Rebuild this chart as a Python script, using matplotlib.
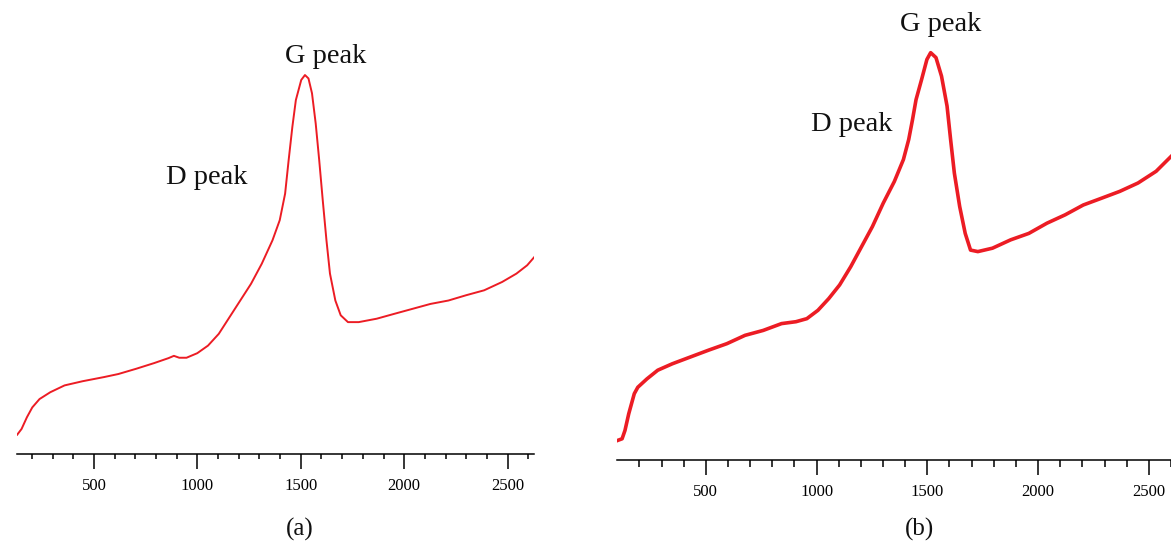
import numpy as np
import matplotlib.pyplot as plt

# Raman spectra, wavenumber (cm-1) vs. intensity (arb. units)
wn_a = [128, 149, 175, 201, 236, 288, 357, 444, 548, 617, 704, 791, 860, 886,
        912, 947, 999, 1051, 1103, 1155, 1207, 1259, 1311, 1363, 1398, 1424,
        1441, 1459, 1476, 1502, 1520, 1537, 1554, 1572, 1589, 1606, 1624,
        1641, 1667, 1693, 1728, 1780, 1867, 1953, 2040, 2127, 2214, 2300,
        2387, 2474, 2543, 2595, 2630]
int_a = [5.1, 6.6, 9.7, 12.3, 14.5, 16.3, 18.1, 19.2, 20.3, 21.1, 22.5, 24.0,
         25.3, 25.9, 25.4, 25.4, 26.6, 28.6, 31.7, 36.1, 40.5, 44.9, 50.2,
         56.4, 61.7, 68.7, 77.5, 86.3, 93.4, 98.7, 100.0, 99.1, 95.2, 87.2,
         77.5, 67.0, 56.4, 47.6, 40.5, 36.6, 34.8, 34.8, 35.7, 37.0, 38.3,
         39.6, 40.5, 41.9, 43.2, 45.4, 47.6, 49.8, 52.0]

wn_b = [99, 122, 135, 152, 177, 193, 234, 283, 349, 431, 513, 595, 677, 759,
        842, 907, 956, 1006, 1055, 1104, 1154, 1203, 1252, 1301, 1351, 1392,
        1416, 1433, 1449, 1474, 1498, 1515, 1539, 1564, 1589, 1605, 1622,
        1646, 1671, 1695, 1728, 1794, 1876, 1958, 2040, 2122, 2204, 2287,
        2369, 2451, 2533, 2600]
int_b = [5.1, 5.6, 7.8, 12.2, 17.5, 19.2, 21.4, 23.7, 25.4, 27.2, 29.0, 30.7,
         32.9, 34.2, 36.0, 36.5, 37.3, 39.5, 42.6, 46.2, 51.0, 56.3, 61.6,
         67.8, 73.5, 79.3, 84.6, 89.8, 95.1, 100.4, 105.7, 107.5, 106.2,
         101.3, 93.4, 84.6, 75.7, 66.9, 59.8, 55.4, 55.0, 55.9, 58.1, 59.8,
         62.5, 64.7, 67.3, 69.1, 70.9, 73.1, 76.2, 80.1]

# peak annotations: (text, wavenumber, intensity)
labels_a = [("G peak", 1620, 105.0), ("D peak", 1045, 73.0)]
labels_b = [("G peak", 1560, 115.0), ("D peak", 1160, 88.5)]

red = "#ec1c24"
serif = ["Liberation Serif", "DejaVu Serif"]

fig = plt.figure(figsize=(11.71, 5.49), dpi=100)
ax_a = fig.add_axes([17 / 1171, 1 - 454 / 549, (534 - 17) / 1171, 454 / 549])
ax_b = fig.add_axes([617 / 1171, 1 - 460 / 549, (1171 - 617) / 1171, 460 / 549])

panels = [
    (ax_a, wn_a, int_a, labels_a, (127, 2628), 119.8, 1.4, 3.6, "(a)", 300),
    (ax_b, wn_b, int_b, labels_b, (99, 2597), 121.4, 2.6, 5.0, "(b)", 920),
]

for ax, wn, inten, labels, xlim, ytop, lw, minor_len, tag, tag_x in panels:
    ax.plot(wn, inten, color=red, lw=lw, solid_joinstyle="round")
    ax.set_xlim(*xlim)
    ax.set_ylim(0, ytop)
    for side in ("left", "right", "top"):
        ax.spines[side].set_visible(False)
    ax.spines["bottom"].set_linewidth(1.1)
    ax.set_yticks([])
    ax.set_xticks([500, 1000, 1500, 2000, 2500])
    ax.set_xticks(np.arange(200, 2601, 100), minor=True)
    ax.tick_params(axis="x", which="major", direction="out", length=10.8,
                   width=1.1, pad=6.5, labelsize=12)
    ax.tick_params(axis="x", which="minor", direction="out", length=minor_len,
                   width=1.1)
    for lab in ax.get_xticklabels():
        lab.set_family(serif)
    ax.patch.set_visible(False)
    for text, x, y in labels:
        ax.text(x, y, text, ha="center", va="center", fontsize=20.5,
                family=serif, color="#111111")
    fig.text(tag_x / 1171, 1 - 529 / 549, tag, ha="center", va="center",
             fontsize=18, family=serif, color="#111111")

fig.savefig("out.png", dpi=100)
